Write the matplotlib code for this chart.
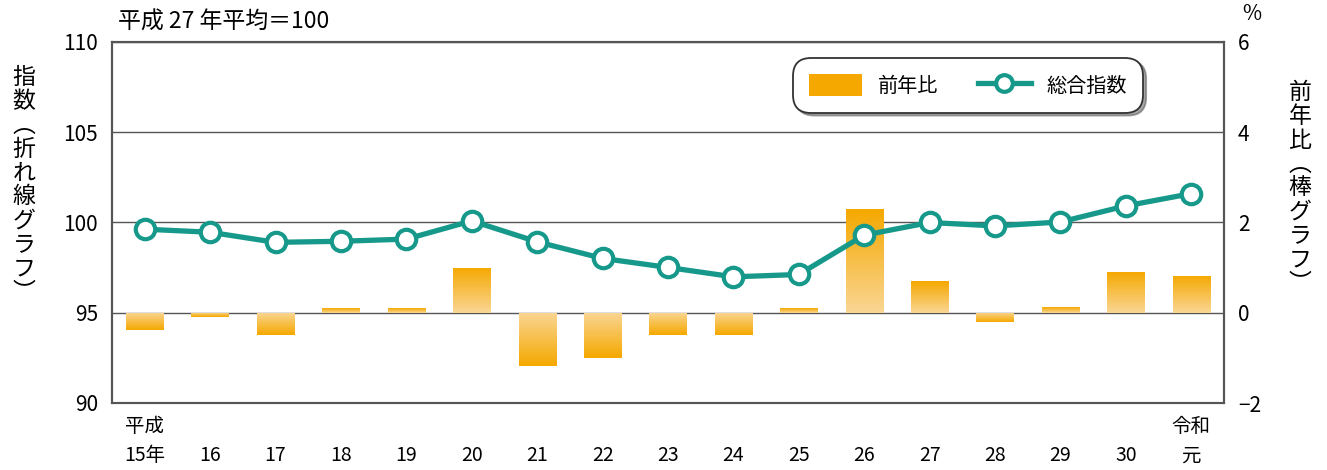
import numpy as np
import matplotlib.pyplot as plt
from matplotlib.patches import Patch
from matplotlib.lines import Line2D

plt.rcParams['font.family'] = ['Noto Sans CJK JP', 'DejaVu Sans']

# data
years       =   ['平成\n15年', '16', '17', '18', '19', '20', '21', '22', '23', '24',
                 '25', '26', '27', '28', '29', '30', '令和\n元']
index_vals  =   [99.63, 99.46, 98.9, 98.96, 99.08, 100.09, 98.93, 98.01, 97.51, 96.99,
                 97.12, 99.3, 100.0, 99.81, 100.03, 100.92, 101.6]
yoy_vals    =   [-0.38, -0.1, -0.49, 0.1, 0.1, 1.0, -1.19, -1.01, -0.5, -0.49,
                 0.11, 2.29, 0.7, -0.2, 0.12, 0.91, 0.82]
left_ticks  =   [90, 95, 100, 105, 110]
right_ticks =   [-2, 0, 2, 4, 6]

teal        =   '#16998a'
orange_dark =   np.array([0.96, 0.66, 0.0])
orange_lite =   np.array([0.98, 0.84, 0.58])
axis_gray   =   '#555555'

fig = plt.figure(figsize=(13.27, 4.70), dpi=100)
ax = fig.add_axes([112/1327, 1-403/470, (1224-112)/1327, (403-42)/470])
ax2 = ax.twinx()
ax.set_zorder(ax2.get_zorder()+1)
ax.patch.set_visible(False)

x = np.arange(len(years))

# bars with gradient (dark at the far end from zero)
bars = ax2.bar(x, yoy_vals, width=0.57, facecolor='none', edgecolor='none', zorder=2)
for b, v in zip(bars, yoy_vals):
    x0 = b.get_x()
    w = b.get_width()
    t = np.linspace(0, 1, 64).reshape(-1, 1)   # 0 at baseline, 1 at tip
    cols = orange_lite[None, None, :]*(1-t[:, :, None]) + orange_dark[None, None, :]*t[:, :, None]
    y_lo, y_hi = (0, v) if v >= 0 else (v, 0)
    if v < 0:
        cols = cols[::-1]
    im = ax2.imshow(cols, extent=[x0, x0+w, y_lo, y_hi], origin='lower',
                    aspect='auto', zorder=2, interpolation='bilinear')
    im.set_clip_path(b)

ax2.set_ylim(-2, 6)
ax2.set_yticks(right_ticks)
ax2.set_yticklabels(['\u22122' if t < 0 else str(t) for t in right_ticks], fontsize=15)
ax2.yaxis.grid(True, color=axis_gray, linewidth=1, zorder=0)
ax2.set_axisbelow(True)

# index line
ax.plot(x, index_vals, color=teal, linewidth=3.8, marker='o', markersize=14,
        markerfacecolor='white', markeredgecolor=teal, markeredgewidth=3, zorder=5)
ax.set_ylim(90, 110)
ax.set_yticks(left_ticks)
ax.set_yticklabels([str(t) for t in left_ticks], fontsize=15)
ax.set_xlim(-0.5, 16.5)
ax.set_xticks(x)
ax.set_xticklabels([s if '\n' in s else '\n'+s for s in years], fontsize=14,
                   linespacing=1.55)

for a in (ax, ax2):
    a.tick_params(length=0, pad=10)
    for sp in a.spines.values():
        sp.set_color(axis_gray)
        sp.set_linewidth(1.5)
ax.tick_params(axis='x', pad=9)

# titles and vertical axis labels
fig.text(118/1327, 1-22/470, '平成 27 年平均＝100', fontsize=16.5, va='center', ha='left')
fig.text(1252/1327, 1-14/470, '%', fontsize=15, va='center', ha='center')
fig.text(24/1327, 1-185/470, '\n'.join('指数︵折れ線グラフ︶'), fontsize=16.5,
         va='center', ha='center', linespacing=1.05)
fig.text(1300/1327, 1-188/470, '\n'.join('前年比︵棒グラフ︶'), fontsize=16.5,
         va='center', ha='center', linespacing=1.05)

handles = [Patch(facecolor=orange_dark, edgecolor='none'),
           Line2D([0], [0], color=teal, linewidth=3.8, marker='o', markersize=12,
                  markerfacecolor='white', markeredgecolor=teal, markeredgewidth=3)]
leg = ax.legend(handles, ['前年比', '総合指数'], loc='center', bbox_to_anchor=(0.77, 0.88),
                ncol=2, fontsize=14.5, frameon=True, fancybox=True, shadow=True,
                handlelength=2.6, handleheight=1.3, columnspacing=2.0,
                borderpad=0.8, framealpha=1)
leg.get_frame().set_edgecolor('#333333')
leg.get_frame().set_linewidth(1.3)
leg.get_frame().set_boxstyle('round', pad=0.0, rounding_size=0.9)

fig.savefig('out.png', dpi=100)
